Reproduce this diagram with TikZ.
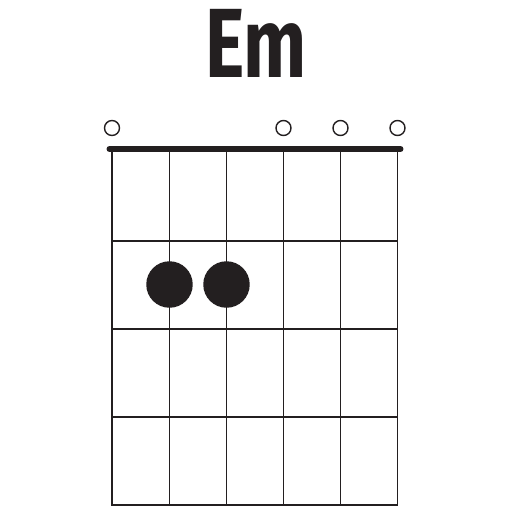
\documentclass[tikz,border=0pt]{standalone}
\usepackage{fontspec}
\newfontfamily\chordfont{Fira Sans}
\usetikzlibrary{positioning}
\definecolor{inkC}{RGB}{35,31,32}
\tikzset{
  fret/.style    = {draw=inkC, line width=1.1pt},
  nutbar/.style  = {draw=inkC, line width=3.4pt, line cap=round},
  openstr/.style = {circle, draw=inkC, line width=0.8pt,
                    minimum size=0.3cm, inner sep=0pt},
  finger/.style  = {circle, fill=inkC, minimum size=0.93cm, inner sep=0pt},
  title/.style   = {text=inkC, font=\chordfont\bfseries\fontsize{56}{56}\selectfont,
                    xscale=0.76, inner sep=0pt}
}

\begin{document}
\begin{tikzpicture}[x=0.02cm, y=-0.02cm]
  \useasboundingbox (0,0) rectangle (512,512);

  %% ── Title ─────────────────────────────────────────────────────
  \node[title] (name) at (256,43) {Em};

  %% ── Grid ──────────────────────────────────────────────────────
  \foreach \x in {112,169.5,226.5,283.5,340.5,397.5}
    \draw[fret] (\x,149) -- (\x,505);
  \foreach \y in {241,329,417,505}
    \draw[fret] (111.5,\y) -- (398,\y);

  %% ── Nut ───────────────────────────────────────────────────────
  \coordinate (nutL) at (109.5,149);
  \coordinate (nutR) at (400.5,149);
  \draw[nutbar] (nutL) -- (nutR);

  %% ── Open strings ──────────────────────────────────────────────
  \node[openstr] (o6) at (112,128) {};
  \node[openstr] (o3) at (283.5,128) {};
  \node[openstr] (o2) at (340.5,128) {};
  \node[openstr] (o1) at (397.5,128) {};

  %% ── Fingers (2nd fret) ────────────────────────────────────────
  \node[finger] (f5) at (169.5,284.5) {};
  \node[finger] (f4) at (226.5,284.5) {};

\end{tikzpicture}
\end{document}
